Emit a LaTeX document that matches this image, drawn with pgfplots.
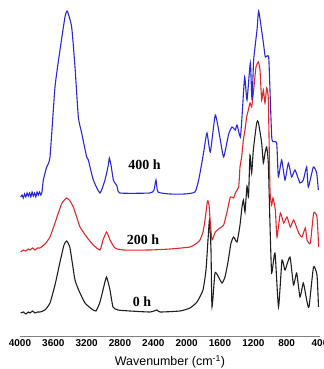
\documentclass[border=0pt]{standalone}
\usepackage{pgfplots}
\pgfplotsset{compat=1.18}
\usepackage{fontspec}
\setmainfont{Liberation Serif}
\setsansfont{Liberation Sans}
\definecolor{cBlue}{RGB}{40,40,215}
\definecolor{cRed}{RGB}{225,40,40}
\definecolor{cBlack}{RGB}{30,30,30}
\begin{document}
\begin{tikzpicture}
\useasboundingbox (0,0) rectangle (324bp,369bp);
\begin{axis}[
  at={(20bp,33bp)}, anchor=south west,
  scale only axis, width=300bp, height=330bp,
  x dir=reverse, xmin=400, xmax=4000, ymin=33, ymax=363,
  axis x line=bottom, axis y line=none,
  x axis line style={-, draw=gray, line width=1bp},
  xtick={4000,3600,3200,2800,2400,2000,1600,1200,800,400},
  major tick length=0pt,
  /pgf/number format/1000 sep={},
  /pgf/number format/assume math mode=true,
  xticklabel style={font=\sffamily\bfseries\fontsize{10}{11}\selectfont},
  xlabel={Wavenumber (cm\textsuperscript{-1})},
  xlabel style={font=\sffamily\fontsize{12.5}{13}\selectfont, at={(rel axis cs:0.5,0)}, anchor=center, yshift=-26bp},
  clip=false,
  every axis plot/.append style={smooth, tension=0.3, line width=1.1bp},
]
\addplot[cBlack] coordinates {
(3992,56)(3960,57)(3930,55)(3900,57)(3880,56)(3850,58)(3820,56)(3790,57)(3760,57)(3700,59)(3640,66)(3580,84)(3520,107)(3472,124)(3440,128)(3400,121)(3340,89)(3280,76)(3220,66)(3140,60)(3088,58)(3040,67)(3004,79)(2962,92)(2920,79)(2884,62)(2824,59)(2680,58)(2440,57)(2356,59)(2320,57)(2080,58)(1960,61)(1876,67)(1804,79)(1768,99)(1744,129)(1726,149)(1708,119)(1696,62)(1660,96)(1618,92)(1576,86)(1540,92)(1504,107)(1468,126)(1436,132)(1396,127)(1360,144)(1336,162)(1318,169)(1300,157)(1276,183)(1258,172)(1240,214)(1220,196)(1200,219)(1160,246)(1140,247)(1100,226)(1080,206)(1060,216)(1040,222)(1020,206)(1000,144)(980,96)(940,116)(898,62)(856,109)(820,99)(760,112)(718,84)(680,96)(640,72)(600,86)(560,69)(532,62)(478,102)(436,94)(418,62)
};
\addplot[cRed] coordinates {
(3992,117)(3960,119)(3930,118)(3900,120)(3880,119)(3850,121)(3820,119)(3790,121)(3760,121)(3700,125)(3640,132)(3580,146)(3540,156)(3496,166)(3440,171)(3400,168)(3360,162)(3316,151)(3280,142)(3200,132)(3120,124)(3040,119)(3004,129)(2960,137)(2920,129)(2860,121)(2764,119)(2440,119)(2200,120)(1960,122)(1876,126)(1840,129)(1804,137)(1780,149)(1750,168)(1732,164)(1714,144)(1696,129)(1656,137)(1600,141)(1556,144)(1516,157)(1476,172)(1436,171)(1416,176)(1376,182)(1360,202)(1340,212)(1320,229)(1300,239)(1280,252)(1260,259)(1240,266)(1220,262)(1200,276)(1168,302)(1140,307)(1120,299)(1100,269)(1080,279)(1060,266)(1040,281)(1020,269)(1000,179)(980,164)(964,171)(936,159)(916,132)(876,156)(836,146)(796,152)(756,142)(716,149)(656,136)(616,132)(576,141)(556,129)(516,126)(476,156)(436,152)(416,122)
};
\addplot[cBlue] coordinates {
(3992,172)(3975,174)(3960,171)(3945,175)(3930,172)(3915,176)(3900,173)(3885,176)(3870,172)(3855,177)(3840,173)(3825,176)(3810,172)(3795,177)(3780,174)(3765,177)(3750,174)(3736,177)(3720,189)(3680,202)(3640,212)(3580,282)(3520,319)(3460,352)(3432,358)(3380,342)(3340,302)(3300,252)(3260,236)(3200,212)(3180,209)(3120,189)(3040,176)(2980,189)(2940,204)(2928,211)(2908,204)(2880,189)(2860,186)(2836,183)(2800,176)(2440,176)(2392,179)(2368,189)(2344,177)(2200,175)(2020,175)(1900,177)(1856,189)(1816,207)(1792,219)(1756,236)(1716,217)(1656,254)(1596,229)(1556,212)(1496,235)(1456,242)(1416,239)(1396,244)(1356,232)(1336,252)(1304,292)(1276,269)(1236,306)(1216,269)(1196,309)(1156,339)(1136,358)(1096,336)(1076,324)(1056,312)(1016,312)(996,269)(976,229)(920,226)(900,192)(860,209)(820,189)(780,206)(740,192)(700,199)(640,186)(600,189)(560,202)(540,182)(480,202)(440,196)(420,179)
};
\node[font=\bfseries\fontsize{14}{14}\selectfont] at (axis cs:2506,204) {400 h};
\node[font=\bfseries\fontsize{14}{14}\selectfont] at (axis cs:2524,129) {200 h};
\node[font=\bfseries\fontsize{14}{14}\selectfont] at (axis cs:2536,67) {0 h};
\end{axis}
\end{tikzpicture}
\end{document}
